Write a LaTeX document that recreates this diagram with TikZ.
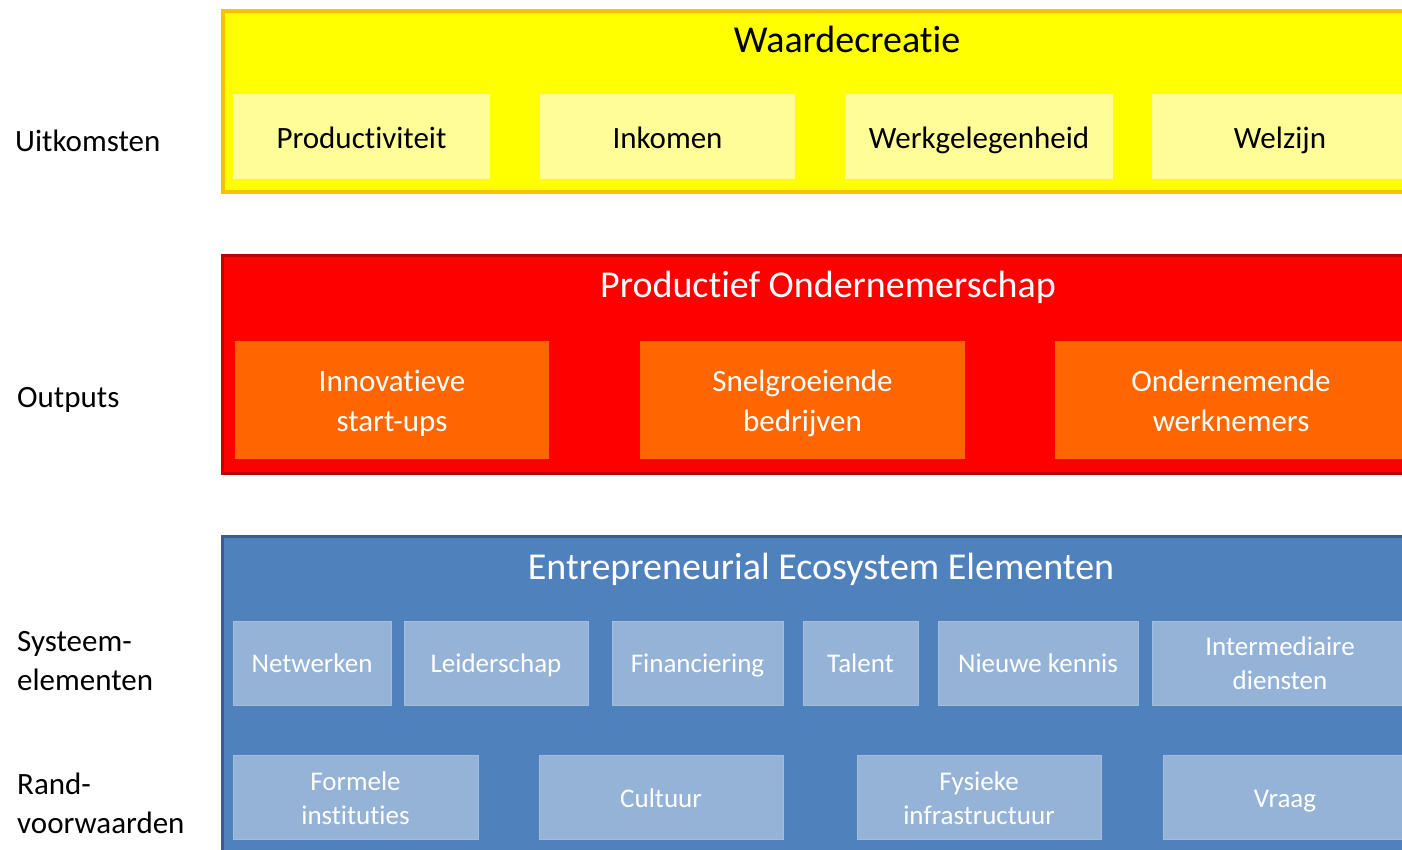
\documentclass[tikz,border=0pt]{standalone}
\usepackage{fontspec}
\setmainfont{Carlito}[Ligatures=NoCommon]
\definecolor{ylwfill}{HTML}{FFFF00}
\definecolor{ylwline}{HTML}{FFC000}
\definecolor{ylwitem}{HTML}{FFFD98}
\definecolor{redfill}{HTML}{FF0000}
\definecolor{redline}{HTML}{C00000}
\definecolor{orgitem}{HTML}{FF6600}
\definecolor{blufill}{HTML}{4F81BD}
\definecolor{bluline}{HTML}{3A5F8C}
\definecolor{bluitem}{HTML}{95B3D7}
\definecolor{bluedge}{HTML}{A3BDDD}
\begin{document}
\begin{tikzpicture}[x=1pt,y=-1pt,
  sidelabel/.style={anchor=west, align=left, inner sep=0, font=\fontsize{31}{39}\selectfont},
  bandtitle/.style={inner sep=0, text height=26, text depth=8, font=\fontsize{38}{46}\selectfont},
  outerband/.style={anchor=north west, inner sep=0, minimum width=1300},
  itembox/.style={inner sep=0, align=center},
  ylwbox/.style={itembox, fill=ylwitem, minimum height=85, text height=29, text depth=6, font=\fontsize{31}{38}\selectfont},
  orgbox/.style={itembox, fill=orgitem, minimum height=118, text height=69, text depth=7, text=white, font=\fontsize{31}{40}\selectfont},
  blubox/.style={itembox, fill=bluitem, draw=bluedge, line width=1, minimum height=84, text=white, font=\fontsize{27}{34}\selectfont},
  bluone/.style={blubox, text height=25, text depth=6},
  blutwo/.style={blubox, text height=59, text depth=6}
]
\useasboundingbox (0,0) rectangle (1402,849);
\clip (0,0) rectangle (1402,849);
\fill[white] (0,0) rectangle (1402,849);

% bands
\node[outerband, fill=ylwfill, draw=ylwline, line width=4, minimum height=181] (yband) at (221,9) {};
\node[outerband, fill=redfill, draw=redline, line width=3, minimum height=218] (rband) at (220.5,253.5) {};
\node[outerband, fill=blufill, draw=bluline, line width=3, minimum height=400] (bband) at (220.5,534.5) {};

% titles
\node[bandtitle] (ytitle) at (847,43) {Waardecreatie};
\node[bandtitle, text=white] (rtitle) at (828,288) {Productief Ondernemerschap};
\node[bandtitle, text=white] (btitle) at (821,570) {Entrepreneurial Ecosystem Elementen};

% yellow items (y 94-179)
\node[ylwbox, minimum width=257] (prod) at (361.5,136.5) {Productiviteit};
\node[ylwbox, minimum width=255] (inko) at (667.5,136.5) {Inkomen};
\node[ylwbox, minimum width=268] (werk) at (979,136.5) {Werkgelegenheid};
\node[ylwbox, minimum width=256] (welz) at (1280,136.5) {Welzijn};

% orange items (y 341-459)
\node[orgbox, minimum width=314] (inno) at (392,400) {Innovatieve\\start-ups};
\node[orgbox, minimum width=325] (snel) at (802.5,400) {Snelgroeiende\\bedrijven};
\node[orgbox, minimum width=352] (onde) at (1231,400) {Ondernemende\\werknemers};

% blue row 1 (y 621-705)
\node[bluone, minimum width=158] (netw) at (312,663) {Netwerken};
\node[bluone, minimum width=184] (leid) at (496,663) {Leiderschap};
\node[bluone, minimum width=171] (fina) at (697.5,663) {Financiering};
\node[bluone, minimum width=115] (tale) at (860.5,663) {Talent};
\node[bluone, minimum width=200] (nieu) at (1038,663) {Nieuwe kennis};
\node[blutwo, minimum width=256] (inte) at (1280,663) {Intermediaire\\diensten};

% blue row 2 (y 755-840)
\node[blutwo, minimum width=245] (form) at (355.5,797.5) {Formele\\instituties};
\node[bluone, minimum width=244] (cult) at (661,797.5) {Cultuur};
\node[blutwo, minimum width=244] (fysi) at (979,797.5) {Fysieke\\infrastructuur};
\node[bluone, minimum width=244] (vraa) at (1285,797.5) {Vraag};

% side labels
\node[sidelabel] (luit) at (15,141) {Uitkomsten};
\node[sidelabel] (lout) at (17,400) {Outputs};
\node[sidelabel] (lsys) at (17,661) {Systeem-\\elementen};
\node[sidelabel] (lran) at (17,803) {Rand-\\voorwaarden};
\end{tikzpicture}
\end{document}
